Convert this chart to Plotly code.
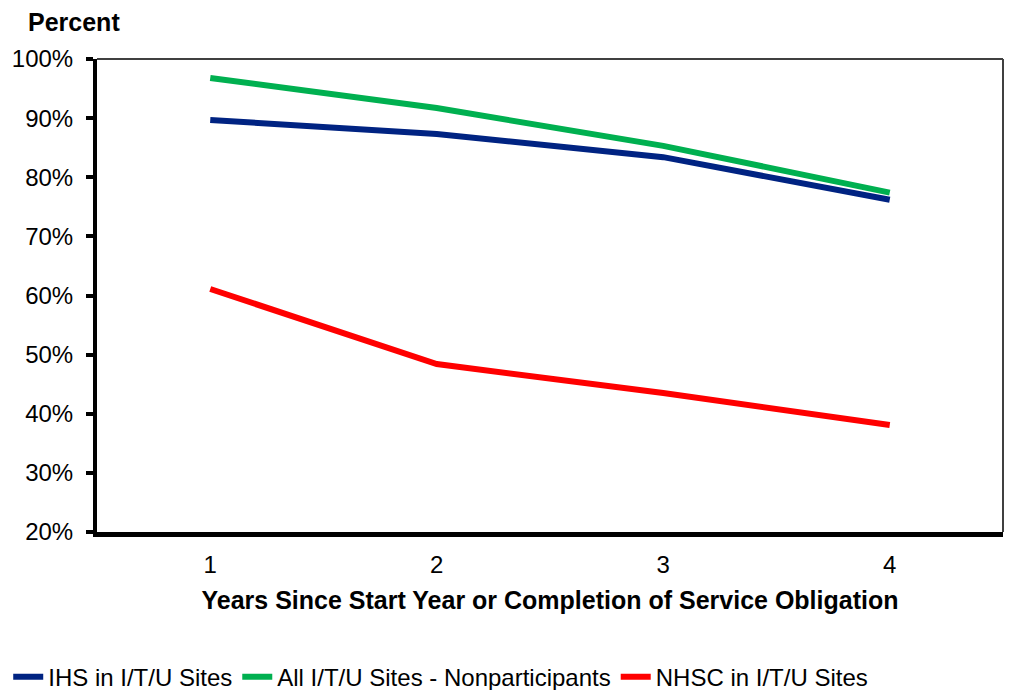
import plotly.graph_objects as go

years = ["1", "2", "3", "4"]
ihs = [89.7, 87.3, 83.4, 76.2]
all_nonpart = [96.8, 91.7, 85.3, 77.4]
nhsc = [61.1, 48.4, 43.5, 38.1]
y_ticks = [20, 30, 40, 50, 60, 70, 80, 90, 100]
y_tick_labels = [f"{v}%" for v in y_ticks]

FONT = "Liberation Sans, Arial, sans-serif"

fig = go.Figure()
series = [
    ("IHS in I/T/U Sites", ihs, "#002382"),
    ("All I/T/U Sites - Nonparticipants", all_nonpart, "#00B050"),
    ("NHSC in I/T/U Sites", nhsc, "#FF0000"),
]
for name, vals, col in series:
    fig.add_trace(go.Scatter(x=years, y=vals, mode="lines", name=name,
                             line=dict(color=col, width=6)))

fig.update_layout(
    width=1028, height=690,
    margin=dict(l=97, r=25, t=59, b=158, autoexpand=False),
    paper_bgcolor="white", plot_bgcolor="white",
    font=dict(family=FONT, color="black", size=24),
    showlegend=True,
    legend=dict(orientation="h", xref="container", yref="paper",
                x=0.008, y=-0.307, xanchor="left", yanchor="middle",
                font=dict(size=24, family=FONT), itemwidth=30,
                tracegroupgap=0, bgcolor="rgba(0,0,0,0)"),
    xaxis=dict(type="category", range=[-0.5, 3.5], showgrid=False,
               showline=True, linecolor="black", linewidth=5,
               ticks="", ticklabelstandoff=7,
               tickfont=dict(size=24, family=FONT),
               title=dict(text="<b>Years Since Start Year or Completion of Service Obligation</b>",
                          font=dict(size=25, family=FONT), standoff=16),
               zeroline=False),
    yaxis=dict(range=[20, 100], tickvals=y_ticks, ticktext=y_tick_labels,
               showgrid=False, showline=True, linecolor="black", linewidth=4,
               ticks="outside", ticklen=7, tickwidth=4, tickcolor="black",
               ticklabelstandoff=8,
               tickfont=dict(size=24, family=FONT), zeroline=False),
    annotations=[dict(text="<b>Percent</b>", xref="paper", yref="paper",
                      x=-0.078, y=1.078, xanchor="left", yanchor="middle",
                      showarrow=False, font=dict(size=25, family=FONT))],
    shapes=[
        dict(type="line", xref="paper", yref="paper", x0=0, x1=1, y0=1, y1=1,
             line=dict(color="#404040", width=2)),
        dict(type="line", xref="paper", yref="paper", x0=1, x1=1, y0=0, y1=1,
             line=dict(color="#404040", width=2)),
    ],
)

fig.write_html("out.html")
